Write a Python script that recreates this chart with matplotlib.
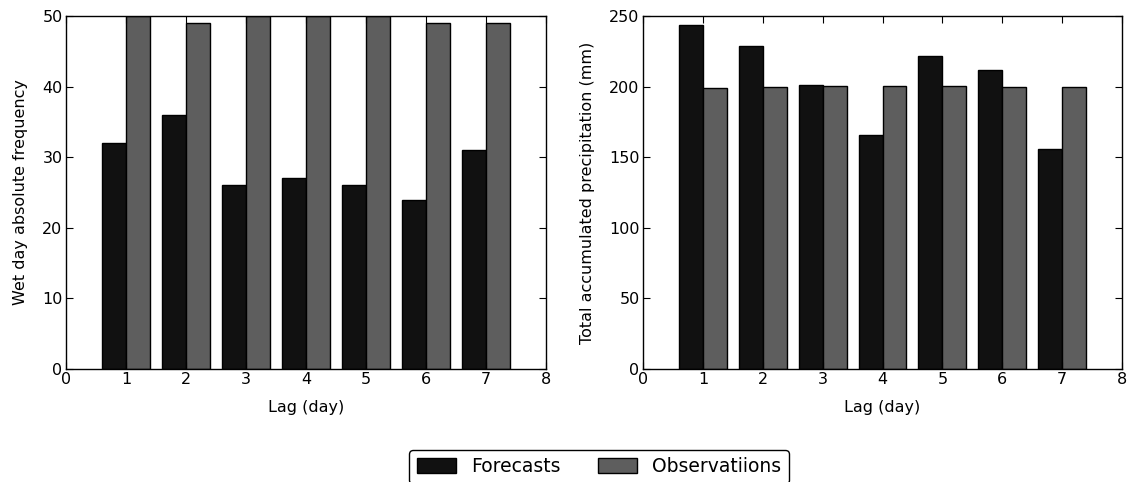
import matplotlib
matplotlib.use("Agg")
import matplotlib.pyplot as plt
import numpy as np

lags = [1, 2, 3, 4, 5, 6, 7]
wet_forecasts = [32, 36, 26, 27, 26, 24, 31]
wet_observations = [50, 49, 50, 50, 50, 49, 49]
precip_forecasts = [243.6, 229, 201, 166, 222, 212, 156]
precip_observations = [199, 199.5, 200.3, 200.3, 200.3, 199.8, 199.8]

fc_color = "#111111"
ob_color = "#5e5e5e"

plt.rcParams['font.family'] = ['DejaVu Sans']
fig = plt.figure(figsize=(11.31, 4.82), dpi=100)
ax1 = fig.add_axes([66/1131, 113/482, 480/1131, 353/482])
ax2 = fig.add_axes([643/1131, 113/482, 479/1131, 353/482])

w = 0.4
x = np.array(lags)
for ax, f, o, ylim, ylab, yt in [
    (ax1, wet_forecasts, wet_observations, 50, "Wet day absolute frequency", [0, 10, 20, 30, 40, 50]),
    (ax2, precip_forecasts, precip_observations, 250, "Total accumulated precipitation (mm)", [0, 50, 100, 150, 200, 250]),
]:
    ax.bar(x - w, f, width=w, align='edge', color=fc_color, edgecolor='black', linewidth=1, label='Forecasts')
    ax.bar(x, o, width=w, align='edge', color=ob_color, edgecolor='black', linewidth=1, label='Observatiions')
    ax.set_xlim(0, 8)
    ax.set_ylim(0, ylim)
    ax.set_xticks(range(0, 9))
    ax.set_yticks(yt)
    ax.tick_params(direction='in', top=True, right=True, labelsize=11.5, length=5, pad=2.5)
    ax.set_xlabel("Lag (day)", fontsize=11.5, labelpad=9)
    ax.set_ylabel(ylab, fontsize=11.5, labelpad=10)
    for s in ax.spines.values():
        s.set_linewidth(1)

handles, labels = ax1.get_legend_handles_labels()
fig.legend(handles, labels, loc='upper center', bbox_to_anchor=(599/1131, 1 - 450/482), ncol=2,
           fontsize=13.5, frameon=True, fancybox=True, edgecolor='black', framealpha=1,
           handlelength=2.1, handleheight=0.8, handletextpad=0.8, columnspacing=2.0,
           borderpad=0.38, borderaxespad=0)

fig.savefig("out.png", dpi=100)
